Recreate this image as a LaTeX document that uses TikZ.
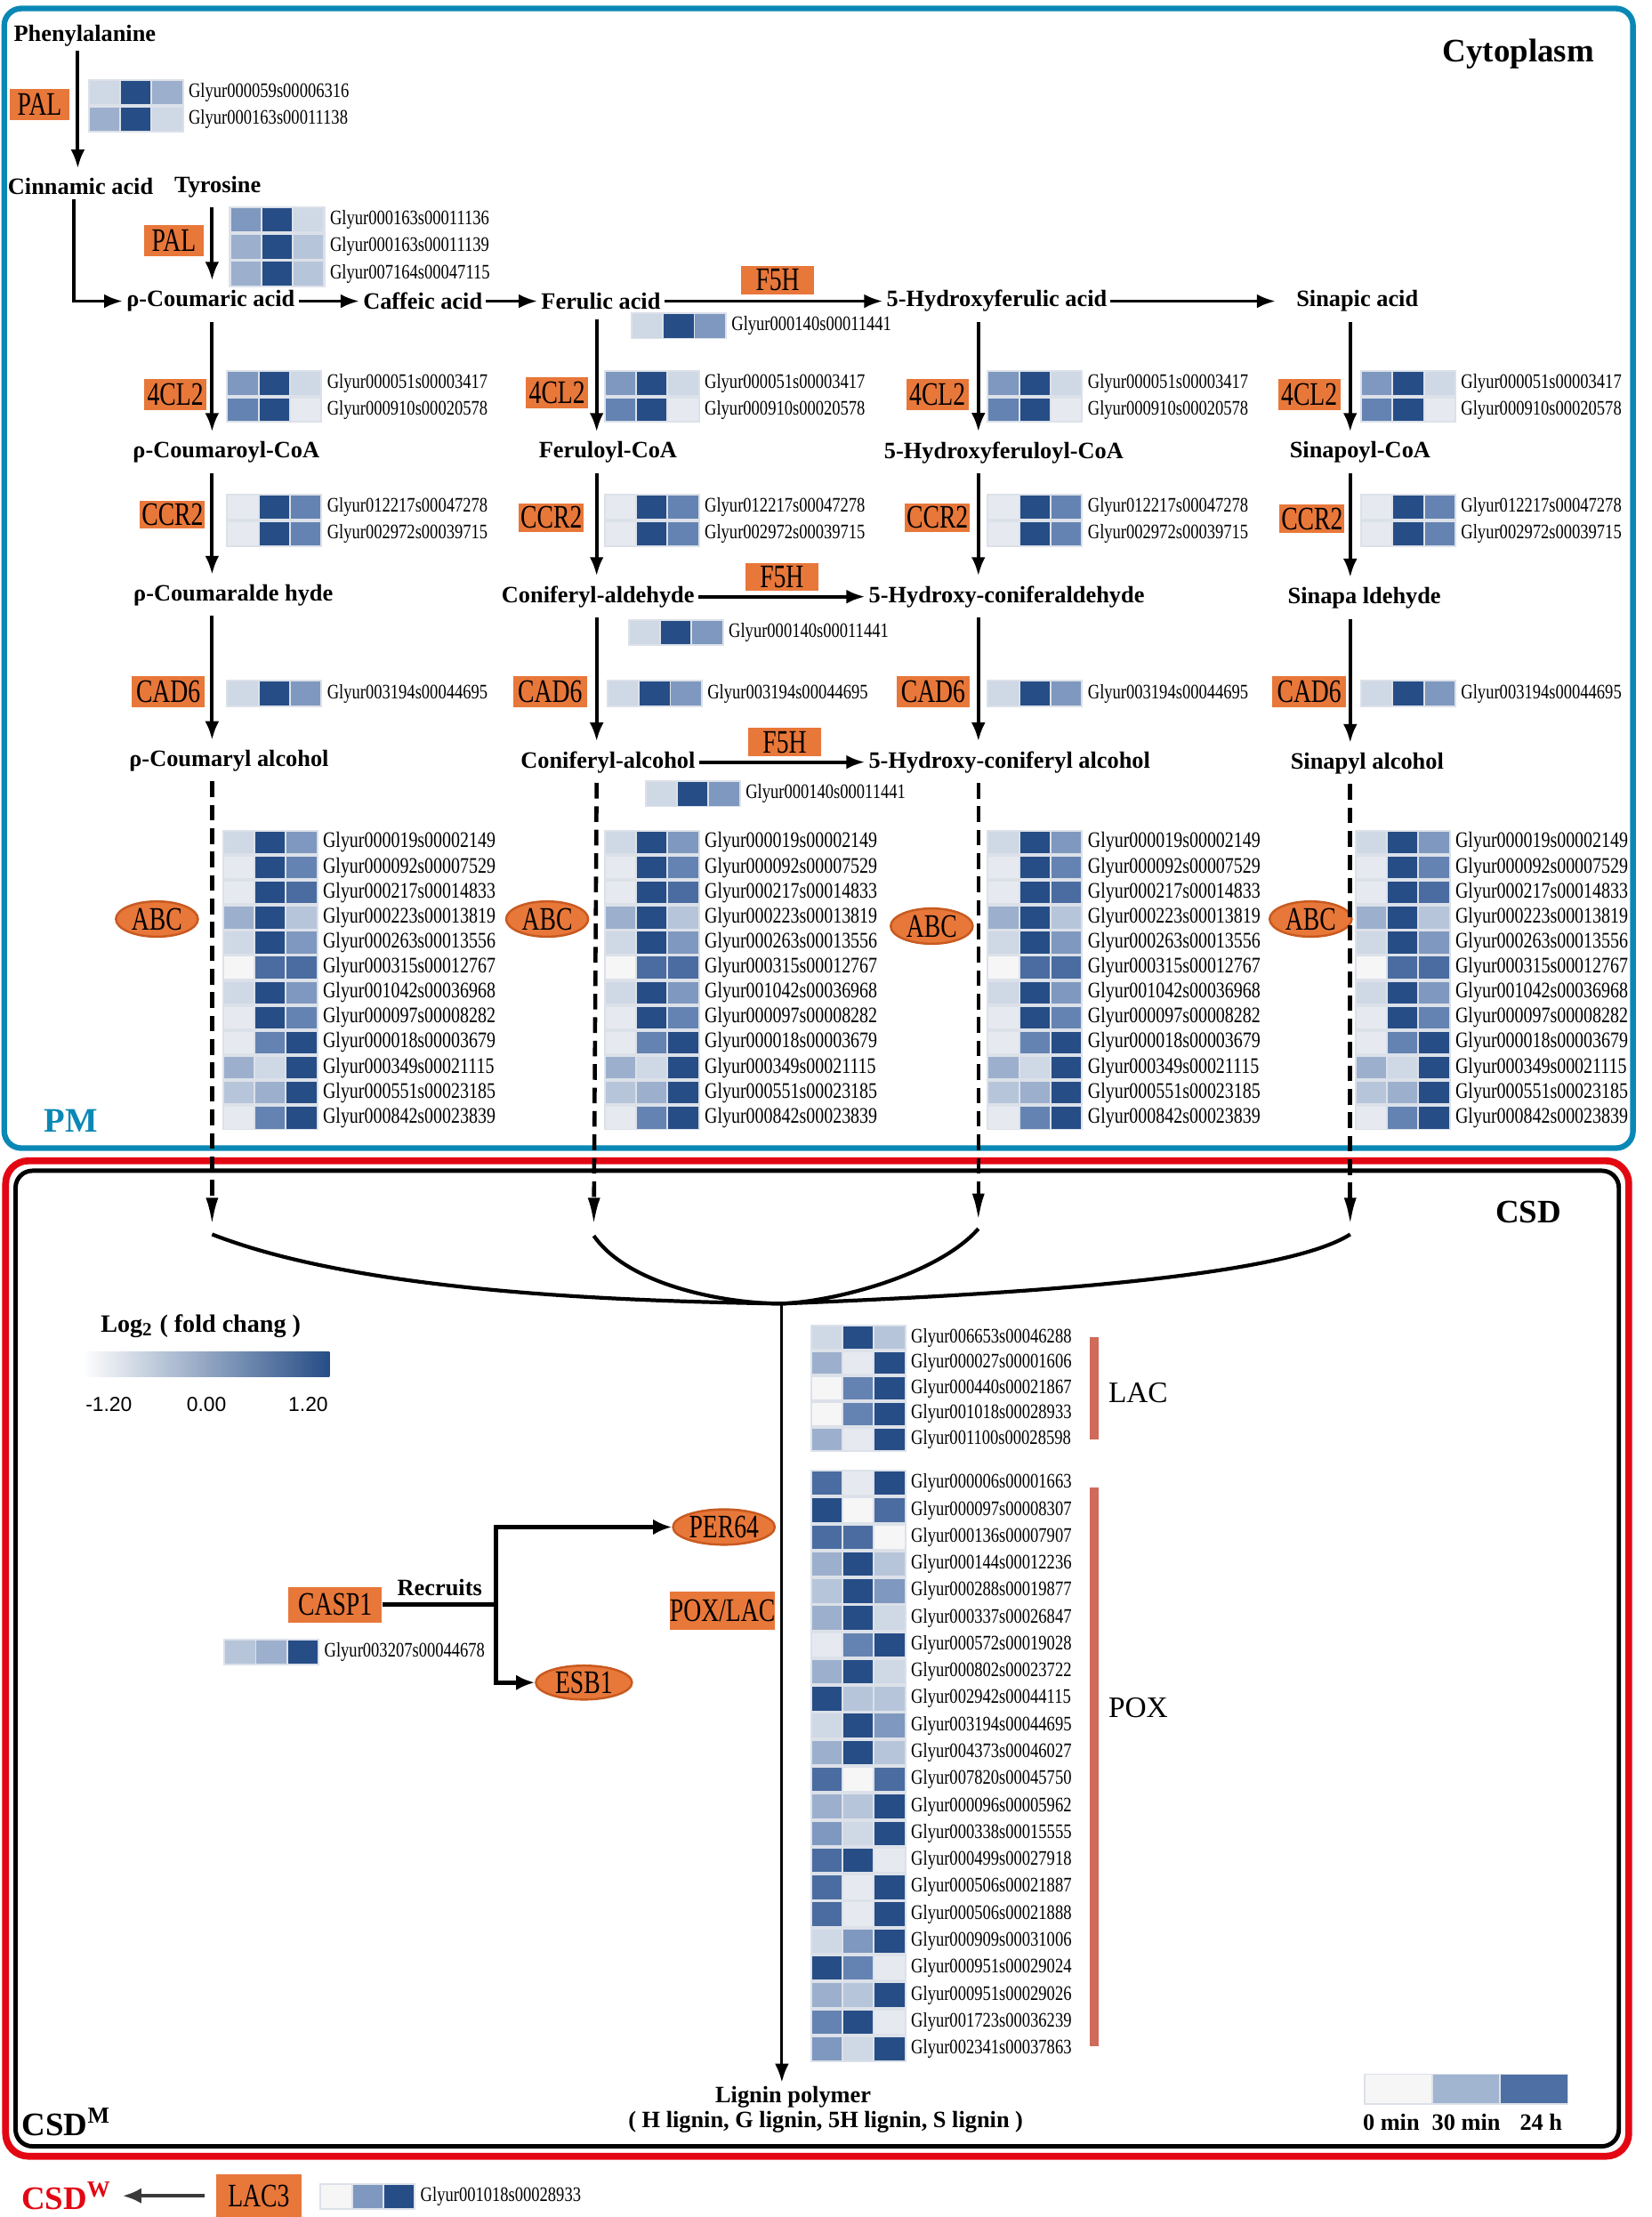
\documentclass[tikz,border=0pt]{standalone}
\usepackage{fontspec}
\setmainfont{Liberation Serif}
\newfontfamily\genefont[FakeStretch=0.8]{Liberation Serif}
\newfontfamily\boxfont[FakeStretch=0.75]{Liberation Serif}
\newfontfamily\numfont{Liberation Sans}
\usetikzlibrary{arrows.meta,shapes.geometric}
\newlength\UU \setlength\UU{0.0159cm}
\definecolor{c0}{HTML}{F6F6F6}
\definecolor{c1}{HTML}{E6EAF0}
\definecolor{c2}{HTML}{CFD8E5}
\definecolor{c3}{HTML}{B7C5DA}
\definecolor{c4}{HTML}{9CB0CD}
\definecolor{c5}{HTML}{7F98BF}
\definecolor{c6}{HTML}{6483B2}
\definecolor{c7}{HTML}{4A6CA0}
\definecolor{c8}{HTML}{264D86}
\definecolor{hmbg}{HTML}{DCE1E9}
\definecolor{orng}{HTML}{E8773A}
\definecolor{orngd}{HTML}{C85A20}
\definecolor{cytblue}{HTML}{0A88B5}
\definecolor{csdred}{HTML}{E30613}
\definecolor{barred}{HTML}{CF6B5B}
\definecolor{dgrey}{HTML}{3A3A3A}
\def\gsz{6.6}
\newcommand{\hmap}[5]{%
  \foreach [count=\i] \ca/\cb/\cc/\lab in #5 {%
    \pgfmathsetmacro{\yt}{#3+(\i-1)*#4}%
    \pgfmathsetmacro{\yb}{#3+\i*#4}%
    \fill[hmbg] (#2,\yt) rectangle (#2+68,\yb);
    \fill[\ca] (#2+1.3,\yt+1.2) rectangle (#2+22.3,\yb-1.2);
    \fill[\cb] (#2+23.5,\yt+1.2) rectangle (#2+44.5,\yb-1.2);
    \fill[\cc] (#2+45.7,\yt+1.2) rectangle (#2+66.7,\yb-1.2);
    \node[gene] (#1-\i) at (#2+71,{(\yt+\yb)/2}) {\lab};
  }%
}
\def\lpalA{c2/c8/c4/Glyur000059s00006316,c4/c8/c2/Glyur000163s00011138}
\def\lpalB{c5/c8/c2/Glyur000163s00011136,c4/c8/c3/Glyur000163s00011139,c4/c8/c3/Glyur007164s00047115}
\def\lfive{c2/c8/c5/Glyur000140s00011441}
\def\lfcl{c5/c8/c2/Glyur000051s00003417,c6/c8/c1/Glyur000910s00020578}
\def\lccr{c1/c8/c6/Glyur012217s00047278,c1/c8/c6/Glyur002972s00039715}
\def\lcad{c2/c8/c5/Glyur003194s00044695}
\def\labc{c2/c8/c5/Glyur000019s00002149,%
c1/c8/c6/Glyur000092s00007529,%
c1/c8/c7/Glyur000217s00014833,%
c4/c8/c3/Glyur000223s00013819,%
c2/c8/c5/Glyur000263s00013556,%
c0/c7/c7/Glyur000315s00012767,%
c2/c8/c5/Glyur001042s00036968,%
c1/c8/c6/Glyur000097s00008282,%
c1/c6/c8/Glyur000018s00003679,%
c4/c2/c8/Glyur000349s00021115,%
c3/c4/c8/Glyur000551s00023185,%
c1/c6/c8/Glyur000842s00023839}
\def\llac{c2/c8/c3/Glyur006653s00046288,%
c4/c1/c8/Glyur000027s00001606,%
c0/c6/c8/Glyur000440s00021867,%
c0/c6/c8/Glyur001018s00028933,%
c4/c1/c8/Glyur001100s00028598}
\def\lpox{c7/c1/c8/Glyur000006s00001663,%
c8/c0/c7/Glyur000097s00008307,%
c7/c7/c0/Glyur000136s00007907,%
c4/c8/c3/Glyur000144s00012236,%
c3/c8/c5/Glyur000288s00019877,%
c4/c8/c2/Glyur000337s00026847,%
c1/c6/c8/Glyur000572s00019028,%
c4/c8/c2/Glyur000802s00023722,%
c8/c3/c3/Glyur002942s00044115,%
c2/c8/c5/Glyur003194s00044695,%
c4/c8/c3/Glyur004373s00046027,%
c7/c0/c7/Glyur007820s00045750,%
c4/c3/c8/Glyur000096s00005962,%
c5/c2/c8/Glyur000338s00015555,%
c7/c8/c1/Glyur000499s00027918,%
c7/c1/c8/Glyur000506s00021887,%
c7/c1/c8/Glyur000506s00021888,%
c2/c5/c8/Glyur000909s00031006,%
c8/c6/c1/Glyur000951s00029024,%
c4/c3/c8/Glyur000951s00029026,%
c6/c8/c1/Glyur001723s00036239,%
c5/c2/c8/Glyur002341s00037863}
\def\lcasp{c3/c4/c8/Glyur003207s00044678}
\def\llacc{c0/c5/c8/Glyur001018s00028933}
\tikzset{
  met/.style={font=\bfseries\fontsize{7.5}{8}\selectfont, inner xsep=1pt, inner ysep=3pt},
  gene/.style={font=\genefont\fontsize{\gsz}{7}\selectfont, anchor=west, inner sep=0pt},
  obox/.style={fill=orng, font=\boxfont\fontsize{10.5}{11}\selectfont, inner sep=0pt, minimum height=22\UU},
  oell/.style={ellipse, fill=orng, draw=orngd, line width=0.7pt, font=\boxfont\fontsize{10.5}{11}\selectfont, inner sep=0pt},
  arr/.style={line width=1.1pt, -{Latex[length=6pt,width=4.5pt]}},
  darr/.style={line width=1.3pt, dash pattern=on 5pt off 2.5pt, -{Latex[length=9pt,width=4pt]}},
  curv/.style={line width=1.2pt},
  barl/.style={line width=3pt, draw=barred},
  big/.style={font=\bfseries\fontsize{10.5}{12}\selectfont},
  lab/.style={font=\bfseries\fontsize{7.5}{8}\selectfont, inner sep=1pt},
}
\begin{document}
\begin{tikzpicture}[x=0.0159cm, y=-0.0159cm]
\useasboundingbox (0,0) rectangle (1168,1568);
\fill[white] (0,0) rectangle (1168,1568);
% compartments
\draw[cytblue, line width=1.8pt, rounded corners=12\UU] (3,6) rectangle (1155,812);
\draw[csdred, line width=2.2pt, rounded corners=16\UU] (4,821) rectangle (1152,1525);
\draw[black, line width=1.4pt, rounded corners=12\UU] (11,828) rectangle (1145,1518);
\node[big] (cyto) at (1074,38) {Cytoplasm};
\node[font=\bfseries\fontsize{11}{12}\selectfont, text=cytblue] (pm) at (50,793) {PM};
\node[big] (csd) at (1081,857) {CSD};
\node[big] (csdm) at (47,1501) {CSD\textsuperscript{M}};
\node[big, text=csdred] (csdw) at (47,1553) {CSD\textsuperscript{W}};
% metabolites
\node[met] (phe) at (60,25) {Phenylalanine};
\node[met] (cin) at (57,132) {Cinnamic acid};
\node[met] (tyr) at (154,132) {Tyrosine};
\node[met] (pca) at (149,213) {ρ-Coumaric acid};
\node[met] (caf) at (299,213) {Caffeic acid};
\node[met] (fer) at (425,213) {Ferulic acid};
\node[met] (h5fa) at (705,213) {5-Hydroxyferulic acid};
\node[met] (sin) at (960,213) {Sinapic acid};
\node[met] (pcoa) at (160,320) {ρ-Coumaroyl-CoA};
\node[met] (fcoa) at (430,320) {Feruloyl-CoA};
\node[met] (h5fcoa) at (710,320) {5-Hydroxyferuloyl-CoA};
\node[met] (scoa) at (962,320) {Sinapoyl-CoA};
\node[met] (pcald) at (165,421) {ρ-Coumaralde hyde};
\node[met] (cald) at (423,422) {Coniferyl-aldehyde};
\node[met] (h5cald) at (712,422) {5-Hydroxy-coniferaldehyde};
\node[met] (sald) at (965,423) {Sinapa ldehyde};
\node[met] (pcalc) at (162,538) {ρ-Coumaryl alcohol};
\node[met] (calc) at (430,539) {Coniferyl-alcohol};
\node[met] (h5calc) at (714,539) {5-Hydroxy-coniferyl alcohol};
\node[met] (salc) at (967,540) {Sinapyl alcohol};
\coordinate (col1) at (150,0);
\coordinate (col2) at (422,0);
\coordinate (col3) at (692,0);
\coordinate (col4) at (955,0);
\coordinate (phb) at (55,36);
\coordinate (cinb) at (52,141);
% enzymes
\node[obox, minimum width=42\UU] (pal1) at (28,74) {PAL};
\node[obox, minimum width=42\UU] (pal2) at (123,170) {PAL};
\node[obox, minimum width=52\UU, minimum height=20\UU] (f5h1) at (550,198) {F5H};
\node[obox, minimum width=52\UU, minimum height=20\UU] (f5h2) at (553,408) {F5H};
\node[obox, minimum width=52\UU, minimum height=20\UU] (f5h3) at (555,525) {F5H};
\node[obox, minimum width=44\UU] (cl1) at (124,279) {4CL2};
\node[obox, minimum width=44\UU] (cl2) at (394,278) {4CL2};
\node[obox, minimum width=44\UU] (cl3) at (663,279) {4CL2};
\node[obox, minimum width=44\UU] (cl4) at (926,279) {4CL2};
\node[obox, minimum width=46\UU, minimum height=20\UU] (ccr1) at (122,364) {CCR2};
\node[obox, minimum width=46\UU, minimum height=20\UU] (ccr2) at (390,366) {CCR2};
\node[obox, minimum width=46\UU, minimum height=20\UU] (ccr3) at (663,366) {CCR2};
\node[obox, minimum width=46\UU, minimum height=20\UU] (ccr4) at (928,367) {CCR2};
\node[obox, minimum width=52\UU] (cad1) at (119,489) {CAD6};
\node[obox, minimum width=52\UU] (cad2) at (389,489) {CAD6};
\node[obox, minimum width=52\UU] (cad3) at (660,489) {CAD6};
\node[obox, minimum width=52\UU] (cad4) at (926,489) {CAD6};
\node[oell, minimum width=58\UU, minimum height=25\UU] (abc1) at (111,650) {ABC};
\node[oell, minimum width=58\UU, minimum height=25\UU] (abc2) at (387,650) {ABC};
\node[oell, minimum width=58\UU, minimum height=25\UU] (abc3) at (659,655) {ABC};
\node[oell, minimum width=58\UU, minimum height=25\UU] (abc4) at (927,650) {ABC};
% heatmaps
\hmap{hpa}{62}{56}{19}{\lpalA}
\hmap{hpb}{162}{146}{19}{\lpalB}
\hmap{hfa}{446}{221}{19}{\lfive}
\hmap{hfb}{444}{438}{19}{\lfive}
\hmap{hfc}{456}{552}{19}{\lfive}
\hmap{hca}{160}{262}{18.5}{\lfcl}
\hmap{hcb}{427}{262}{18.5}{\lfcl}
\hmap{hcc}{698}{262}{18.5}{\lfcl}
\hmap{hcd}{962}{262}{18.5}{\lfcl}
\hmap{hra}{160}{349}{19}{\lccr}
\hmap{hrb}{427}{349}{19}{\lccr}
\hmap{hrc}{698}{349}{19}{\lccr}
\hmap{hrd}{962}{349}{19}{\lccr}
\hmap{hda}{160}{481}{19}{\lcad}
\hmap{hdb}{429}{481}{19}{\lcad}
\hmap{hdc}{698}{481}{19}{\lcad}
\hmap{hdd}{962}{481}{19}{\lcad}
\begin{scope}
\def\gsz{7.1}
\hmap{haa}{157}{587}{17.7}{\labc}
\hmap{hab}{427}{587}{17.7}{\labc}
\hmap{hac}{698}{587}{17.7}{\labc}
\hmap{had}{958}{587}{17.7}{\labc}
\end{scope}
% pathway arrows
\draw[arr] (phb) -- (cin.north -| phb);
\draw[arr] (cinb) |- (pca.west);
\draw[arr] (tyr.south -| col1) -- (pca.north -| col1);
\draw[arr] (pca.east) -- (caf.west);
\draw[arr] (caf.east) -- (fer.west);
\draw[arr] (fer.east) -- (h5fa.west);
\draw[arr, shorten >=12\UU] (h5fa.east) -- (sin.west);
\draw[arr] (cald.east) -- (h5cald.west);
\draw[arr] (calc.east) -- (h5calc.west);
\draw[arr] (pca.south -| col1) -- (pcoa.north -| col1);
\draw[arr] (pcoa.south -| col1) -- (pcald.north -| col1);
\draw[arr] (pcald.south -| col1) -- (pcalc.north -| col1);
\draw[arr] (fer.south -| col2) -- (fcoa.north -| col2);
\draw[arr] (fcoa.south -| col2) -- (cald.north -| col2);
\draw[arr] (cald.south -| col2) -- (calc.north -| col2);
\draw[arr] (h5fa.south -| col3) -- (h5fcoa.north -| col3);
\draw[arr] (h5fcoa.south -| col3) -- (h5cald.north -| col3);
\draw[arr] (h5cald.south -| col3) -- (h5calc.north -| col3);
\draw[arr] (sin.south -| col4) -- (scoa.north -| col4);
\draw[arr] (scoa.south -| col4) -- (sald.north -| col4);
\draw[arr] (sald.south -| col4) -- (salc.north -| col4);
% transport to CSD
\coordinate (d1) at (150,867);
\coordinate (d2) at (420,867);
\coordinate (d3) at (692,864);
\coordinate (d4) at (955,867);
\coordinate (s1) at (150,873);
\coordinate (s2) at (420,874);
\coordinate (s3) at (692,869);
\coordinate (s4) at (955,873);
\coordinate (conv) at (553,922);
\draw[darr] (pcalc.south -| col1) -- (d1);
\draw[darr] (calc.south -| col2) -- (d2);
\draw[darr] (h5calc.south -| col3) -- (d3);
\draw[darr] (salc.south -| col4) -- (d4);
\draw[curv] (s1) .. controls (250,912) and (420,920) .. (conv);
\draw[curv] (s2) .. controls (445,910) and (515,922) .. (conv);
\draw[curv] (s3) .. controls (665,900) and (595,920) .. (conv);
\draw[curv] (s4) .. controls (905,905) and (700,916) .. (conv);
\node[lab] (lig1) at (561,1483) {Lignin polymer};
\node[lab] (lig2) at (584,1501) {( H lignin, G lignin, 5H lignin, S lignin )};
\draw[line width=0.9pt, -{Latex[length=6pt,width=4.5pt]}] (conv) -- (conv |- lig1.north);
% legend
\node[font=\bfseries\fontsize{8}{9}\selectfont] (logt) at (142,938) {Log\textsubscript{2} ( fold chang )};
\shade[left color=white, middle color=c5, right color=c8] (58,956) rectangle (233,974);
\node[font=\numfont\fontsize{6.5}{7}\selectfont] (lm) at (77,993) {-1.20};
\node[font=\numfont\fontsize{6.5}{7}\selectfont] (l0) at (146,993) {0.00};
\node[font=\numfont\fontsize{6.5}{7}\selectfont] (lp) at (218,993) {1.20};
% LAC / POX
\hmap{hlac}{573}{937}{18}{\llac}
\hmap{hpox}{573}{1039.5}{19.05}{\lpox}
\draw[barl] (774,946) -- (774,1018);
\draw[barl] (774,1052) -- (774,1447);
\node[font=\fontsize{9.5}{10}\selectfont] (lact) at (805,985) {LAC};
\node[font=\fontsize{9.5}{10}\selectfont] (poxt) at (805,1208) {POX};
% CASP1
\node[obox, minimum width=66\UU, minimum height=25\UU] (casp) at (237,1135) {CASP1};
\node[obox, minimum width=74\UU, minimum height=27\UU] (poxlac) at (511,1139) {POX/LAC};
\node[oell, minimum width=72\UU, minimum height=25\UU] (per) at (512,1080) {PER64};
\node[oell, minimum width=68\UU, minimum height=24\UU] (esb) at (413,1190) {ESB1};
\node[lab] (recr) at (311,1123) {Recruits};
\coordinate (jn) at (351,1135);
\draw[line width=1.4pt] (casp.east) -- (jn);
\draw[line width=1.4pt, -{Latex[length=6pt,width=5pt]}] (jn) |- (per.west);
\draw[line width=1.4pt, -{Latex[length=6pt,width=5pt]}] (jn) |- (esb.west);
\hmap{hcasp}{158}{1159}{19}{\lcasp}
% time legend
\draw[hmbg, fill=c0, line width=0.5pt] (965,1467) rectangle (1013,1488);
\draw[hmbg, fill=c4!80!c3, line width=0.5pt] (1013,1467) rectangle (1061,1488);
\draw[hmbg, fill=c7!85!c6, line width=0.5pt] (1061,1467) rectangle (1109,1488);
\node[lab] (t0) at (984,1501) {0 min};
\node[lab] (t30) at (1037,1501) {30 min};
\node[lab] (t24) at (1090,1501) {24 h};
% CSD W
\node[obox, minimum width=60\UU, minimum height=30\UU] (lac3) at (183,1553) {LAC3};
\draw[line width=1.2pt, dgrey, shorten <=8\UU, -{Latex[length=6pt,width=5pt]}] (lac3.west) -- (csdw.east);
\hmap{hlac3}{226}{1544}{19}{\llacc}
\end{tikzpicture}
\end{document}
